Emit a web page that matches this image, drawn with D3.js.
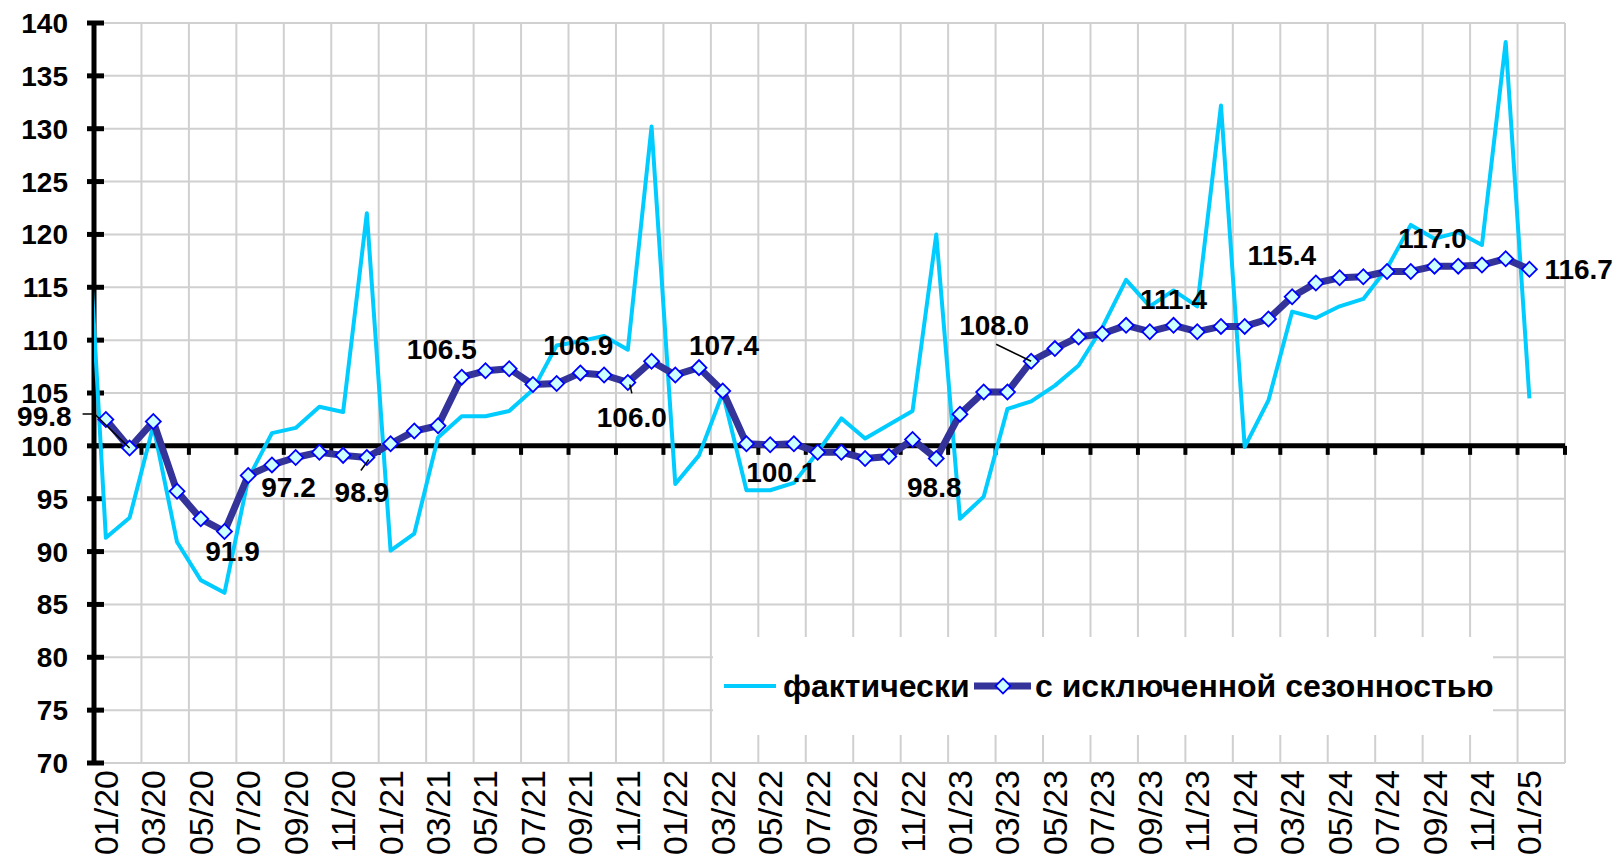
<!DOCTYPE html>
<html>
<head>
<meta charset="utf-8">
<script src="https://cdn.jsdelivr.net/npm/d3@7"></script>
<style>
	body { margin: 0; background: #ffffff; }
	svg { display: block; font-family: "Liberation Sans", Arial, sans-serif; }
</style>
</head>
<body>
<div id="chart"></div>
<script>
// месяцы (ось категорий)
var months = [
	"01/20","02/20","03/20","04/20","05/20","06/20","07/20","08/20","09/20","10/20","11/20","12/20",
	"01/21","02/21","03/21","04/21","05/21","06/21","07/21","08/21","09/21","10/21","11/21","12/21",
	"01/22","02/22","03/22","04/22","05/22","06/22","07/22","08/22","09/22","10/22","11/22","12/22",
	"01/23","02/23","03/23","04/23","05/23","06/23","07/23","08/23","09/23","10/23","11/23","12/23",
	"01/24","02/24","03/24","04/24","05/24","06/24","07/24","08/24","09/24","10/24","11/24","12/24",
	"01/25"
];

// фактически (первое значение - 12/19, за левой границей графика)
var actualPrev = 131.5;
var actual = [
	91.3, 93.2, 101.9, 90.9, 87.3, 86.1, 96.9, 101.2, 101.7, 103.7, 103.2, 122.0,
	90.1, 91.7, 100.8, 102.8, 102.8, 103.3, 105.3, 109.5, 109.9, 110.4, 109.1, 130.2,
	96.4, 99.1, 105.0, 95.8, 95.8, 96.5, 99.4, 102.6, 100.7, 102.0, 103.3, 120.0,
	93.1, 95.2, 103.5, 104.2, 105.7, 107.6, 111.2, 115.7, 113.2, 114.7, 113.2, 132.2,
	99.9, 104.3, 112.7, 112.1, 113.2, 113.9, 116.8, 120.9, 119.6, 120.2, 119.0, 138.2,
	104.5
];

// с исключенной сезонностью
var seasAdj = [
	102.5, 99.8, 102.3, 95.7, 93.1, 91.9, 97.2, 98.2, 98.9, 99.4, 99.1, 98.9,
	100.2, 101.4, 101.9, 106.5, 107.1, 107.3, 105.8, 105.9, 106.9, 106.7, 106.0, 108.0,
	106.7, 107.4, 105.2, 100.2, 100.1, 100.2, 99.4, 99.4, 98.8, 99.0, 100.6, 98.8,
	103.0, 105.1, 105.1, 108.0, 109.2, 110.3, 110.6, 111.4, 110.8, 111.4, 110.8, 111.3,
	111.3, 112.0, 114.1, 115.4, 115.9, 116.0, 116.5, 116.5, 117.0, 117.0, 117.1, 117.7,
	116.7
];

var yTicks = [70, 75, 80, 85, 90, 95, 100, 105, 110, 115, 120, 125, 130, 135, 140];

// подписи значений (индекс месяца)
var labelIdx = [1, 5, 6, 11, 15, 20, 22, 25, 28, 35, 39, 45, 51, 56, 60];

var seriesNames = ["фактически", "с исключенной сезонностью"];

// --- раскладка ---
var W = 1622, H = 857;
var plotL = 94, plotR = 1565, plotT = 23, plotB = 763;

// смещения подписей: dx, dy (до базовой линии), выравнивание, выноска
var labelLayout = {
	1:  {dx: -58, dy: -22, anchor: "end", leader: [[-47, -34], [-35, -34], [0, 0]]},
	5:  {dx: 8,   dy: 30,  anchor: "middle"},
	6:  {dx: 13,  dy: 22,  anchor: "start"},
	11: {dx: -5,  dy: 45,  anchor: "middle", leader: [[2, 2], [-6, 13]]},
	15: {dx: -20, dy: -18, anchor: "middle"},
	20: {dx: -2,  dy: -18, anchor: "middle"},
	22: {dx: 4,   dy: 45,  anchor: "middle", leader: [[2, 2], [4, 11]]},
	25: {dx: 25,  dy: -13, anchor: "middle"},
	28: {dx: 11,  dy: 37,  anchor: "middle"},
	35: {dx: -2,  dy: 38,  anchor: "middle"},
	39: {dx: -37, dy: -26, anchor: "middle", leader: [[-35, -17], [0, 0]]},
	45: {dx: 0,   dy: -16, anchor: "middle"},
	51: {dx: -34, dy: -18, anchor: "middle"},
	56: {dx: -2,  dy: -18, anchor: "middle"},
	60: {dx: 15,  dy: 10,  anchor: "start"}
};

var svg = d3.select("#chart").append("svg")
	.attr("width", W)
	.attr("height", H);

svg.append("rect").attr("width", W).attr("height", H).attr("fill", "#ffffff");

// одна лишняя пустая категория справа (как в исходнике)
var x = d3.scaleBand()
	.domain(d3.range(months.length + 1))
	.range([plotL, plotR]);

var y = d3.scaleLinear()
	.domain([70, 140])
	.range([plotB, plotT]);

function cx(i) { return x(i) + x.bandwidth() / 2; }

svg.append("defs").append("clipPath").attr("id", "plotClip")
	.append("rect")
	.attr("x", plotL).attr("y", plotT - 5)
	.attr("width", plotR - plotL).attr("height", plotB - plotT + 10);

// сетка
var grid = svg.append("g").attr("stroke", "#d0d0d0").attr("stroke-width", 2);

grid.selectAll(".hg").data(yTicks).enter().append("line")
	.attr("x1", plotL).attr("x2", plotR)
	.attr("y1", function(d) { return y(d); })
	.attr("y2", function(d) { return y(d); });

var vIdx = d3.range(2, months.length + 2, 2);
grid.selectAll(".vg").data(vIdx).enter().append("line")
	.attr("x1", function(d) { return x(d - 1) + x.bandwidth(); })
	.attr("x2", function(d) { return x(d - 1) + x.bandwidth(); })
	.attr("y1", plotT).attr("y2", plotB);

// легенда (белая подложка поверх сетки)
var legend = svg.append("g");
legend.append("rect")
	.attr("x", 713).attr("y", 637)
	.attr("width", 780).attr("height", 98)
	.attr("fill", "#ffffff");

// оси (под линиями рядов)
var axisG = svg.append("g");
axisG.append("line")
	.attr("x1", plotL).attr("x2", plotL)
	.attr("y1", plotT - 2).attr("y2", plotB + 2)
	.attr("stroke", "#000").attr("stroke-width", 5);

axisG.selectAll(".yt").data(yTicks).enter().append("line")
	.attr("x1", plotL - 7).attr("x2", plotL + 10)
	.attr("y1", function(d) { return y(d); })
	.attr("y2", function(d) { return y(d); })
	.attr("stroke", "#000").attr("stroke-width", 5);

axisG.selectAll(".yl").data(yTicks).enter().append("text")
	.attr("x", 68)
	.attr("y", function(d) { return y(d) + 10; })
	.attr("text-anchor", "end")
	.attr("font-size", 28)
	.attr("font-weight", "bold")
	.text(function(d) { return d; });

// ось X пересекает Y в точке 100
axisG.append("line")
	.attr("x1", plotL).attr("x2", plotR)
	.attr("y1", y(100)).attr("y2", y(100))
	.attr("stroke", "#000").attr("stroke-width", 5);

axisG.selectAll(".xt").data(vIdx).enter().append("line")
	.attr("x1", function(d) { return x(d - 1) + x.bandwidth(); })
	.attr("x2", function(d) { return x(d - 1) + x.bandwidth(); })
	.attr("y1", y(100)).attr("y2", y(100) + 9)
	.attr("stroke", "#000").attr("stroke-width", 4);

// подписи месяцев внизу
axisG.selectAll(".xl").data(months.filter(function(m, i) { return i % 2 == 0; })).enter().append("text")
	.attr("transform", function(d) { var i = months.indexOf(d); return "translate(" + (cx(i) + 12) + "," + (plotB + 7) + ") rotate(-90)"; })
	.attr("text-anchor", "end")
	.attr("font-size", 34)
	.text(function(d) { return d; });

// линии рядов
var plot = svg.append("g").attr("clip-path", "url(#plotClip)");

var actualPts = [[cx(0) - x.bandwidth(), actualPrev]].concat(actual.map(function(v, i) { return [cx(i), v]; }));

plot.append("path")
	.datum(actualPts)
	.attr("fill", "none")
	.attr("stroke", "#00ccff")
	.attr("stroke-width", 4)
	.attr("stroke-linejoin", "round")
	.attr("d", d3.line()
		.x(function(d) { return d[0]; })
		.y(function(d) { return y(d[1]); }));

var saLine = d3.line()
	.x(function(d, i) { return cx(i); })
	.y(function(d) { return y(d); });

svg.append("path")
	.datum(seasAdj)
	.attr("fill", "none")
	.attr("stroke", "#333399")
	.attr("stroke-width", 7)
	.attr("stroke-linejoin", "round")
	.attr("d", saLine);

var diamond = d3.symbol().type(d3.symbolSquare).size(112);

svg.append("g").selectAll("path")
	.data(seasAdj)
	.enter().append("path")
	.attr("d", diamond)
	.attr("transform", function(d, i) { return "translate(" + cx(i) + "," + y(d) + ") rotate(45)"; })
	.attr("fill", "#ccffff")
	.attr("stroke", "#0000ff")
	.attr("stroke-width", 1.8);

// подписи значений
var lbl = svg.append("g");
labelIdx.forEach(function(i) {
	var L = labelLayout[i];
	var px = cx(i), py = y(seasAdj[i]);
	if (L.leader) {
		lbl.append("path")
			.attr("d", d3.line()(L.leader.map(function(p) { return [px + p[0], py + p[1]]; })))
			.attr("fill", "none")
			.attr("stroke", "#000")
			.attr("stroke-width", 1.5);
	}
	lbl.append("text")
		.attr("x", px + L.dx)
		.attr("y", py + L.dy)
		.attr("text-anchor", L.anchor)
		.attr("font-size", 28)
		.attr("font-weight", "bold")
		.text(seasAdj[i].toFixed(1));
});

// легенда: образцы и текст
legend.append("line")
	.attr("x1", 724).attr("x2", 776).attr("y1", 686).attr("y2", 686)
	.attr("stroke", "#00ccff").attr("stroke-width", 4);
legend.append("text")
	.attr("x", 783).attr("y", 697)
	.attr("font-size", 32).attr("font-weight", "bold")
	.text(seriesNames[0]);
legend.append("line")
	.attr("x1", 974).attr("x2", 1031).attr("y1", 686).attr("y2", 686)
	.attr("stroke", "#333399").attr("stroke-width", 7);
legend.append("path")
	.attr("d", diamond)
	.attr("transform", "translate(1003,686) rotate(45)")
	.attr("fill", "#ccffff").attr("stroke", "#0000ff").attr("stroke-width", 1.8);
legend.append("text")
	.attr("x", 1035).attr("y", 697)
	.attr("font-size", 32).attr("font-weight", "bold")
	.text(seriesNames[1]);
</script>
</body>
</html>
